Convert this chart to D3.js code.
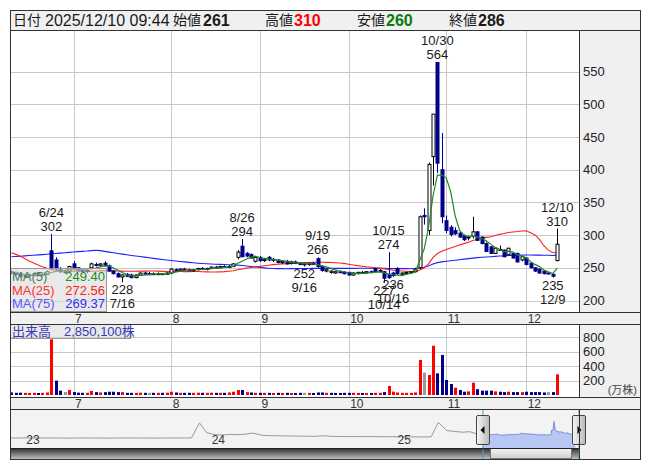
<!DOCTYPE html>
<html><head><meta charset="utf-8">
<script src="https://cdn.jsdelivr.net/npm/d3@7"></script>
<style>
body{margin:0;background:#fff}
svg{display:block}
text{font-family:"Liberation Sans","Noto Sans CJK JP",sans-serif}
</style>
</head><body>
<svg id="c" width="653" height="470"></svg>
<script>
// ---------------- DATA ----------------
const dates = ["6/11","6/12","6/13","6/16","6/17","6/18","6/19","6/20","6/23","6/24","6/25","6/26","6/27","6/30",
"7/1","7/2","7/3","7/4","7/7","7/8","7/9","7/10","7/11","7/14","7/15","7/16","7/17","7/18","7/22","7/23","7/24","7/25","7/28","7/29","7/30","7/31",
"8/1","8/4","8/5","8/6","8/7","8/8","8/12","8/13","8/14","8/15","8/18","8/19","8/20","8/21","8/22","8/25","8/26","8/27","8/28","8/29",
"9/1","9/2","9/3","9/4","9/5","9/8","9/9","9/10","9/11","9/12","9/16","9/17","9/18","9/19","9/22","9/24","9/25","9/26","9/29","9/30",
"10/1","10/2","10/3","10/6","10/7","10/8","10/9","10/10","10/14","10/15","10/16","10/17","10/20","10/21","10/22","10/23","10/24","10/27","10/28","10/29","10/30","10/31",
"11/4","11/5","11/6","11/7","11/10","11/11","11/12","11/13","11/14","11/17","11/18","11/19","11/20","11/21","11/25","11/26","11/27","11/28",
"12/1","12/2","12/3","12/4","12/5","12/8","12/9","12/10"];
const open = [244,242,240,237,238,239,241,239,240,276,262,249,244,245,
256,250,246,245,250,255,254,257,253,245,241,236,240,239,235,239,242,241,241,240,241,240,
242,247,246,248,247,246,247,249,248,249,251,250,252,251,252,266,283,272,270,260,
266,261,266,262,262,258,260,257,259,257,256,255,257,264,252,245,243,242,244,243,
243,239,241,243,242,244,249,245,244,240,242,249,240,242,243,244,250,330,307,420,564,400,
322,312,307,303,299,296,298,305,297,287,282,272,278,277,270,272,272,262,
265,257,250,248,245,242,240,261];
const high = [246,244,242,240,241,242,243,242,246,302,266,251,247,253,
260,251,248,247,258,258,257,260,255,247,243,240,242,241,240,243,244,244,243,243,242,243,
249,249,249,250,249,248,250,251,250,252,253,253,254,254,257,277,294,274,272,268,
268,265,268,265,263,262,262,261,261,259,258,258,259,266,254,248,246,245,246,245,
244,243,244,245,245,246,250,248,245,274,244,251,243,244,245,250,330,341,411,485,564,456,
330,315,312,305,301,299,328,306,298,289,283,281,284,278,280,273,273,267,
266,258,251,249,246,244,241,310];
const low = [240,238,235,234,236,237,238,237,239,247,246,242,241,243,
248,244,243,242,248,252,252,252,244,240,235,228,236,234,234,238,240,240,239,239,239,239,
241,245,245,246,245,244,246,247,246,248,249,249,250,250,251,263,266,266,264,258,
259,259,260,259,257,256,255,255,256,254,252,253,254,250,244,243,241,241,242,240,
238,238,240,241,241,242,243,243,227,233,236,239,239,240,241,243,248,316,300,376,395,318,
303,298,300,296,291,292,295,291,286,274,271,271,276,266,269,264,258,260,
254,249,244,241,240,240,235,260];
const close = [242,240,237,238,239,241,239,240,244,250,249,244,244,252,
250,246,245,246,256,254,256,253,245,241,236,239,237,235,239,242,241,241,240,241,240,242,
248,246,248,247,246,247,249,248,249,251,250,252,251,252,256,274,267,268,265,266,
261,263,262,263,258,260,256,259,257,255,255,257,255,252,246,247,245,244,243,241,
239,242,243,242,244,243,244,246,234,235,238,241,242,243,244,248,328,328,408,485,410,328,
307,301,302,297,293,297,305,292,287,275,272,280,278,267,280,265,259,267,
255,250,245,242,241,241,237,286];
const volume = [35,30,32,30,28,30,28,30,35,768,198,60,41,69,
41,32,30,30,55,40,35,40,45,45,40,40,30,30,30,32,30,30,30,30,30,32,
45,35,30,30,30,30,32,30,30,32,30,30,30,35,45,69,69,40,35,30,
30,30,30,28,30,28,30,28,28,30,30,28,28,35,35,30,30,28,28,30,
30,30,28,28,28,28,30,30,40,124,46,35,30,30,30,35,483,308,276,680,299,552,
207,152,101,69,46,50,170,80,60,60,60,50,45,40,45,40,40,40,
45,40,40,40,35,40,40,285];
// closes before the visible window (for moving averages)
const priorClose = [205,203,200,198,202,206,204,201,203,207,205,208,210,206,204,209,212,210,215,
290,340,330,320,315,310,318,312,305,300,
308,312,305,300,310,306,302,298,305,300,296,300,295,
285,280,276,272,275,270,268,272,
303,313,323,328,320,316,308,304,298,
270,262,258,255,252,250,248,250,252,249,246,245,247,244,243];
const priceTicks = [200,250,300,350,400,450,500,550];
const volumeTicks = [200,400,600,800];
const maPeriods = [5,25,75];
const highMarks = ["6/24","8/26","9/19","10/15","10/30","12/10"];
const lowMarks = ["7/16","9/16","10/14","10/16","12/9"];
// navigator history (semi-monthly closes, from 2022-11-15 to 2025-06-01)
const navHistClose = [184,183,185,
184,183,185,184,183,182,184,185,184,183,182,183,184,185,184,183,182,183,184,185,184,186,460,280,
245,240,250,245,255,275,235,228,225,222,220,218,216,215,225,214,212,210,211,209,210,208,209,207,
206,205,204,202,206,470,320,305,290,300,255];
const navYears = [2023,2024,2025];
const header = {date:"2025/12/10 09:44", open:261, high:310, low:260, close:286, volume:"2,850,100"};

// ---------------- LAYOUT ----------------
const svg = d3.select("#c");
const L = 11, R = 579, RP = 640;
const mainTop = 31, mainBot = 312, strip1Bot = 324, volBot = 397, strip2Bot = 409, navBot = 448, frameBot = 459;
const N = dates.length;
const x = d3.scaleLinear().domain([0, N-1]).range([11.4, 557.2]);
const y = d3.scaleLinear().domain([200, 550]).range([300.5, 71.6]);
const yv = d3.scaleLinear().domain([0, 800]).range([395, 337]);
const NAVY = "#00008b", GRID = "#c8c8c8", PANEL = "#f0f0f0", EDGE = "#333";

const defs = svg.append("defs");
defs.append("clipPath").attr("id","clipMain").append("rect").attr("x",L).attr("y",mainTop).attr("width",R-L).attr("height",mainBot-mainTop);
defs.append("clipPath").attr("id","clipVol").append("rect").attr("x",L).attr("y",strip1Bot).attr("width",R-L).attr("height",volBot-strip1Bot);
defs.append("clipPath").attr("id","clipNav").append("rect").attr("x",L).attr("y",strip2Bot).attr("width",R-L).attr("height",navBot-strip2Bot);
const g1 = defs.append("linearGradient").attr("id","sb").attr("x1",0).attr("y1",0).attr("x2",0).attr("y2",1);
g1.append("stop").attr("offset","0%").attr("stop-color","#2a2a2a");
g1.append("stop").attr("offset","100%").attr("stop-color","#bdbdbd");
const g2 = defs.append("linearGradient").attr("id","thumb").attr("x1",0).attr("y1",0).attr("x2",0).attr("y2",1);
g2.append("stop").attr("offset","0%").attr("stop-color","#f4f4f4");
g2.append("stop").attr("offset","100%").attr("stop-color","#cfcfcf");
const g3 = defs.append("linearGradient").attr("id","hdl").attr("x1",0).attr("y1",0).attr("x2",1).attr("y2",0);
g3.append("stop").attr("offset","0%").attr("stop-color","#f8f8f8");
g3.append("stop").attr("offset","100%").attr("stop-color","#b8b8b8");

// backgrounds
svg.append("rect").attr("x",10.5).attr("y",10.5).attr("width",630).attr("height",20).attr("fill",PANEL);
svg.append("rect").attr("x",L).attr("y",mainTop).attr("width",R-L).attr("height",mainBot-mainTop).attr("fill","#fff");
[[mainTop,mainBot],[strip1Bot,volBot],[strip2Bot,frameBot]].forEach(([a,b])=>
  svg.append("rect").attr("x",R).attr("y",a).attr("width",RP-R).attr("height",b-a).attr("fill",PANEL));
svg.append("rect").attr("x",L).attr("y",mainBot).attr("width",RP-L).attr("height",strip1Bot-mainBot).attr("fill",PANEL);
svg.append("rect").attr("x",L).attr("y",volBot).attr("width",RP-L).attr("height",strip2Bot-volBot).attr("fill",PANEL);
svg.append("rect").attr("x",L).attr("y",strip2Bot).attr("width",R-L).attr("height",navBot-strip2Bot).attr("fill","#f3f3f3");

// month gridlines
const monthStarts = [];
dates.forEach((d,i)=>{ if(i>0 && d.split("/")[0]!==dates[i-1].split("/")[0]) monthStarts.push(i); });
function vgrid(y0,y1){
  monthStarts.forEach(i=>svg.append("line").attr("x1",Math.round(x(i))+0.5).attr("x2",Math.round(x(i))+0.5)
    .attr("y1",y0).attr("y2",y1).attr("stroke",GRID));
}
vgrid(mainTop,mainBot); vgrid(strip1Bot,volBot);
priceTicks.forEach(t=>svg.append("line").attr("x1",L).attr("x2",R).attr("y1",Math.round(y(t))+0.5).attr("y2",Math.round(y(t))+0.5).attr("stroke",GRID));
volumeTicks.forEach(t=>svg.append("line").attr("x1",L).attr("x2",R).attr("y1",Math.round(yv(t))+0.5).attr("y2",Math.round(yv(t))+0.5).attr("stroke",GRID));

// price axis labels (library axis, no domain line)
const ax = svg.append("g").attr("transform",`translate(${R},0)`)
  .call(d3.axisRight(y).tickValues(priceTicks).tickSize(0).tickPadding(4));
ax.select(".domain").remove();
ax.selectAll("text").attr("font-size",13).attr("fill","#222").attr("font-family","Liberation Sans, sans-serif");
const axv = svg.append("g").attr("transform",`translate(${R},0)`)
  .call(d3.axisRight(yv).tickValues(volumeTicks).tickSize(0).tickPadding(4));
axv.select(".domain").remove();
axv.selectAll("text").attr("font-size",13).attr("fill","#222").attr("font-family","Liberation Sans, sans-serif");
svg.append("text").attr("x",637).attr("y",394).attr("text-anchor","end").attr("font-size",11).attr("fill","#444").text("(万株)");

// month labels
[[mainBot,strip1Bot],[volBot,strip2Bot]].forEach(([a,b])=>{
  monthStarts.forEach(i=>svg.append("text").attr("x",x(i)+1.5).attr("y",(a+b)/2+4.5).attr("font-size",12).attr("fill","#333")
    .text(+dates[i].split("/")[0]));
});

// moving averages
const allClose = priorClose.concat(close);
const P = priorClose.length;
function ma(n){ return close.map((c,i)=>d3.mean(allClose.slice(P+i-n+1, P+i+1))); }
const maVals = maPeriods.map(ma);
const maColors = ["#1f8a1f","#ff2020","#2020ff"];

// candles
const main = svg.append("g").attr("clip-path","url(#clipMain)");
[2,1].forEach(k=>{
  main.append("path").datum(maVals[k]).attr("fill","none").attr("stroke",maColors[k]).attr("stroke-width",1.1)
    .attr("d",d3.line().x((d,i)=>x(i)).y(d=>y(d)));
});
const cg = main.selectAll("g.c").data(d3.range(N)).join("g");
cg.append("line").attr("x1",i=>Math.round(x(i))+0.5).attr("x2",i=>Math.round(x(i))+0.5)
  .attr("y1",i=>y(high[i])).attr("y2",i=>y(low[i]))
  .attr("stroke",i=>close[i]>=open[i]?"#000":NAVY);
cg.append("rect").attr("x",i=>Math.round(x(i))-1).attr("width",3)
  .attr("y",i=>y(Math.max(open[i],close[i])))
  .attr("height",i=>Math.max(1,Math.abs(y(open[i])-y(close[i]))))
  .attr("fill",i=>close[i]>=open[i]?"#fff":NAVY)
  .attr("stroke",i=>close[i]>=open[i]?"#000":NAVY).attr("stroke-width",1);
main.append("path").datum(maVals[0]).attr("fill","none").attr("stroke",maColors[0]).attr("stroke-width",1.2)
  .attr("d",d3.line().x((d,i)=>x(i)).y(d=>y(d)));

// high/low labels
highMarks.forEach(dt=>{
  const i = dates.indexOf(dt), yy = y(high[i]);
  svg.append("text").attr("x",x(i)).attr("y",yy-3).attr("text-anchor","middle").attr("font-size",13).attr("fill","#1a1a1a").text(high[i]);
  svg.append("text").attr("x",x(i)).attr("y",yy-17).attr("text-anchor","middle").attr("font-size",13).attr("fill","#1a1a1a").text(dt);
});
lowMarks.forEach(dt=>{
  const i = dates.indexOf(dt), yy = y(low[i]);
  svg.append("text").attr("x",x(i)).attr("y",yy+12).attr("text-anchor","middle").attr("font-size",13).attr("fill","#1a1a1a").text(low[i]);
  svg.append("text").attr("x",x(i)).attr("y",yy+26).attr("text-anchor","middle").attr("font-size",13).attr("fill","#1a1a1a").text(dt);
});

// MA legend box
svg.append("rect").attr("x",10.5).attr("y",268.5).attr("width",96).attr("height",43).attr("fill","rgba(215,215,215,0.55)").attr("stroke","#999");
const legCol = [["#4e7a5f","#1f8a1f"],["#ff3030","#ff2020"],["#5a5aff","#3030ff"]];
maPeriods.forEach((n,k)=>{
  const yy = 281 + k*13.5;
  svg.append("text").attr("x",12).attr("y",yy).attr("font-size",13).attr("fill",legCol[k][0]).text(`MA(${n})`);
  svg.append("text").attr("x",105).attr("y",yy).attr("text-anchor","end").attr("font-size",13).attr("fill",legCol[k][1]).text(maVals[k][N-1].toFixed(2));
});

// volume bars
const vg = svg.append("g").attr("clip-path","url(#clipVol)");
vg.selectAll("rect").data(d3.range(N)).join("rect")
  .attr("x",i=>Math.round(x(i))-1).attr("width",3)
  .attr("y",i=>yv(volume[i])).attr("height",i=>yv(0)-yv(volume[i]))
  .attr("fill",i=>{ const pc = i===0?priorClose[P-1]:close[i-1]; return close[i]>pc?"#ff0000":close[i]<pc?"#00008b":"#999"; });
svg.append("rect").attr("x",10.5).attr("y",324.5).attr("width",120).attr("height",14).attr("fill","rgba(215,215,215,0.55)").attr("stroke","#999");
svg.append("text").attr("x",12).attr("y",336).attr("font-size",13).attr("fill","#3a3ab8").text(`出来高　${header.volume}株`);

// navigator
const histDates = []; { let d = new Date(2022,10,15); navHistClose.forEach(()=>{ histDates.push(new Date(d)); d = d.getDate()===15? new Date(d.getFullYear(), d.getMonth()+1, 1) : new Date(d.getFullYear(), d.getMonth(), 15); }); }
const visDates = dates.map(s=>{const [m,dd]=s.split("/"); return new Date(2025,+m-1,+dd);});
const xn = d3.scaleTime().domain([new Date(2025,5,11), new Date(2025,11,17)]).range([483,579]);
const yn = d3.scaleLinear().domain([0,680]).range([448,411]);
const ng = svg.append("g").attr("clip-path","url(#clipNav)");
const histPts = histDates.map((d,i)=>[d,navHistClose[i]]);
const visPts = visDates.map((d,i)=>[d,close[i]]);
ng.append("path").datum(visPts).attr("fill","#b8c6f4")
  .attr("d",d3.area().x(d=>xn(d[0])).y0(navBot).y1(d=>yn(d[1])));
ng.append("path").datum(histPts.concat([visPts[0]])).attr("fill","none").attr("stroke","#999").attr("stroke-width",1)
  .attr("d",d3.line().x(d=>xn(d[0])).y(d=>yn(d[1])));
ng.append("path").datum(visPts).attr("fill","none").attr("stroke","#7686d8").attr("stroke-width",1)
  .attr("d",d3.line().x(d=>xn(d[0])).y(d=>yn(d[1])));
navYears.forEach(yr=>{
  svg.append("text").attr("x",xn(new Date(yr,0,1))+3).attr("y",444).attr("text-anchor","middle").attr("font-size",12).attr("fill","#333").text(String(yr).slice(2));
});
// scrollbar
svg.append("rect").attr("x",L).attr("y",navBot).attr("width",R-L).attr("height",frameBot-navBot).attr("fill","url(#sb)");
svg.append("rect").attr("x",490.5).attr("y",navBot+0.5).attr("width",81).attr("height",frameBot-navBot-1).attr("fill","url(#thumb)").attr("stroke","#777");
// selection edges & handles
[xn(visDates[0]), R].forEach((hx,k)=>{
  svg.append("line").attr("x1",hx).attr("x2",hx).attr("y1",strip2Bot).attr("y2",frameBot).attr("stroke","#3aa0d0");
  svg.append("rect").attr("x",hx-6.5).attr("y",415.5).attr("width",13).attr("height",29).attr("rx",1.5).attr("fill","url(#hdl)").attr("stroke","#444");
  const s = k===0?-1:1;
  svg.append("path").attr("d",`M${hx+s*2.5},430 L${hx-s*1.5},426 L${hx-s*1.5},434 Z`).attr("fill","#000");
});

// separators & frame
[mainTop-0.5, mainBot+0.5, strip1Bot+0.5, volBot+0.5, strip2Bot+0.5].forEach(yy=>
  svg.append("line").attr("x1",10).attr("x2",641).attr("y1",yy).attr("y2",yy).attr("stroke",EDGE));
svg.append("line").attr("x1",10).attr("x2",R).attr("y1",navBot+0.5).attr("y2",navBot+0.5).attr("stroke","#222");
[[mainTop,mainBot],[strip1Bot,volBot],[strip2Bot,frameBot]].forEach(([a,b])=>
  svg.append("line").attr("x1",R+0.5).attr("x2",R+0.5).attr("y1",a).attr("y2",b).attr("stroke",EDGE));
svg.append("rect").attr("x",10.5).attr("y",10.5).attr("width",630).attr("height",449).attr("fill","none").attr("stroke",EDGE);

// header
svg.append("text").attr("x",13).attr("y",25).attr("font-size",14).attr("fill","#1a1a1a").text("日付");
svg.append("text").attr("x",45).attr("y",25.5).attr("font-size",16).attr("fill","#1a1a1a").text(header.date);
const hv = [["始値",header.open,173,203,"#1a1a1a"],["高値",header.high,265,294,"#ff0000"],["安値",header.low,357,386,"#0a7a0a"],["終値",header.close,449,478,"#1a1a1a"]];
hv.forEach(([lab,val,lx,vx,col])=>{
  svg.append("text").attr("x",lx).attr("y",25).attr("font-size",14).attr("fill","#1a1a1a").text(lab);
  svg.append("text").attr("x",vx).attr("y",26).attr("font-size",16).attr("font-weight","bold").attr("fill",col).text(val);
});
</script>
</body></html>
